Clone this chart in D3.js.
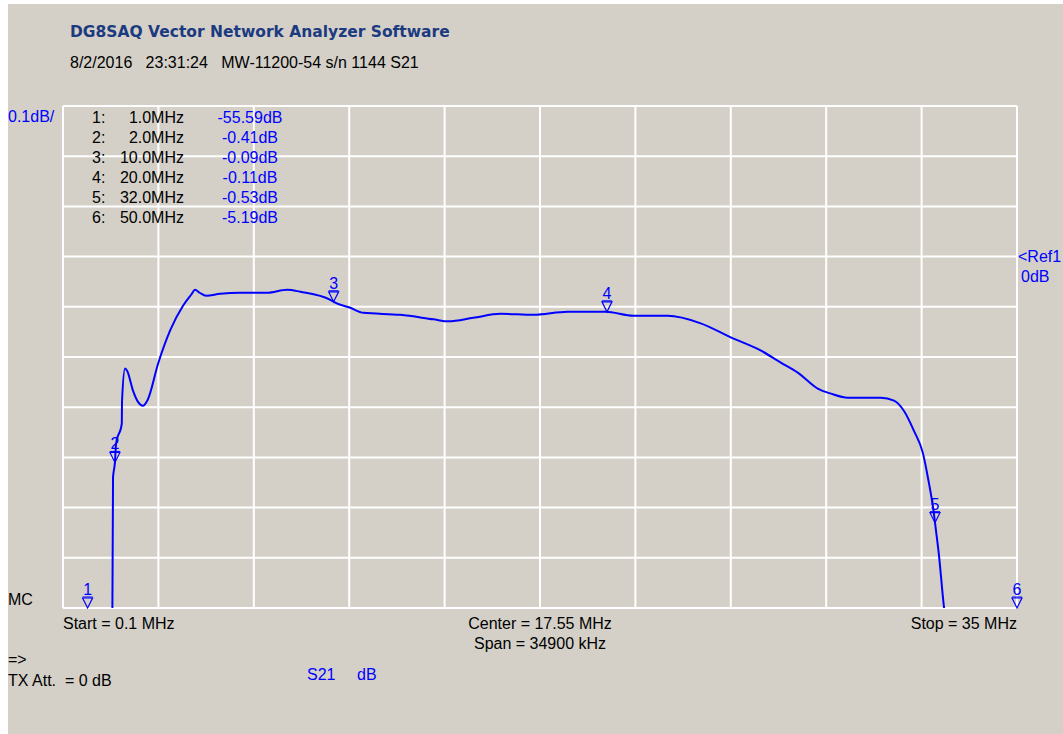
<!DOCTYPE html>
<html>
<head>
<meta charset="utf-8">
<script src="https://d3js.org/d3.v7.min.js"></script>
<style>
body { margin: 0; background: #ffffff; }
svg text { font-family: "Liberation Sans", Arial, sans-serif; }
</style>
</head>
<body>
<svg id="chart" width="1063" height="734"></svg>
<script>
// S21 trace, frequency in MHz, level in dB
var traceFreq = [0.1, 1.0, 1.9, 1.93, 1.95, 2.0, 2.04, 2.25, 2.26, 2.37, 2.45, 2.66, 2.85, 3.02, 3.2, 3.58, 4.02, 4.49, 4.8, 4.93, 5.1, 5.34, 5.85, 6.58, 7.57, 8.30, 8.78, 9.88, 10.0, 10.61, 11.09, 12.44, 13.65, 14.20, 15.11, 16.10, 17.31, 18.56, 19.95, 20.97, 22.22, 23.43, 24.53, 25.62, 26.36, 26.98, 27.71, 28.19, 28.81, 30.02, 30.50, 30.86, 31.23, 31.56, 31.74, 31.96, 32.0, 32.14, 32.33, 32.6, 35.0];
var traceDb = [-62.0, -55.59, -30.0, -0.44, -0.43, -0.41, -0.373, -0.333, -0.287, -0.223, -0.228, -0.267, -0.29, -0.297, -0.285, -0.213, -0.147, -0.098, -0.075, -0.066, -0.072, -0.078, -0.074, -0.072, -0.072, -0.066, -0.070, -0.086, -0.09, -0.102, -0.112, -0.116, -0.125, -0.129, -0.122, -0.114, -0.116, -0.110, -0.110, -0.118, -0.118, -0.133, -0.161, -0.187, -0.211, -0.231, -0.263, -0.273, -0.281, -0.281, -0.287, -0.307, -0.347, -0.392, -0.440, -0.512, -0.53, -0.592, -0.699, -1.2, -8.0];

// markers
var markerNum = [1, 2, 3, 4, 5, 6];
var markerFreq = [1.0, 2.0, 10.0, 20.0, 32.0, 50.0];
var markerDb = [-55.59, -0.41, -0.09, -0.11, -0.53, -5.19];

var startMHz = 0.1, stopMHz = 35;
var refDb = 0, dbPerDiv = 0.1;

var svg = d3.select("#chart");
var gray = "#d4d0c8", blue = "#0000ff";

// background (thin white strip on top and left like the screenshot)
svg.append("rect").attr("x", 8).attr("y", 4).attr("width", 1055).attr("height", 730).attr("fill", gray);

var pLeft = 63, pRight = 1017, pTop = 106, pBottom = 608;

var x = d3.scaleLinear().domain([startMHz, stopMHz]).range([pLeft, pRight]);
// ref line sits 3 divisions below the top
var y = d3.scaleLinear().domain([refDb + 3 * dbPerDiv, refDb - 7 * dbPerDiv]).range([pTop, pBottom]);

// grid
var vTicks = d3.range(0, 11).map(function(i) { return startMHz + i * (stopMHz - startMHz) / 10; });
var hTicks = d3.range(0, 11).map(function(i) { return refDb + (3 - i) * dbPerDiv; });

svg.append("g").selectAll("line").data(vTicks).enter().append("line")
  .attr("x1", function(d) { return x(d); }).attr("x2", function(d) { return x(d); })
  .attr("y1", pTop).attr("y2", pBottom)
  .attr("stroke", "#ffffff").attr("stroke-width", 2);
svg.append("g").selectAll("line").data(hTicks).enter().append("line")
  .attr("x1", pLeft).attr("x2", pRight)
  .attr("y1", function(d) { return y(d); }).attr("y2", function(d) { return y(d); })
  .attr("stroke", "#ffffff").attr("stroke-width", 2);

// trace, clipped to plot area
svg.append("clipPath").attr("id", "plotclip").append("rect")
  .attr("x", pLeft).attr("y", pTop - 1).attr("width", pRight - pLeft).attr("height", pBottom - pTop + 1);

var pts = traceFreq.map(function(f, i) { return [f, traceDb[i]]; });
var line = d3.line()
  .x(function(d) { return x(d[0]); })
  .y(function(d) { return Math.min(y(d[1]), pBottom + 40); })
  .curve(d3.curveMonotoneX);
svg.append("path").datum(pts)
  .attr("clip-path", "url(#plotclip)")
  .attr("d", line)
  .attr("fill", "none").attr("stroke", blue).attr("stroke-width", 2);

// marker triangles
var mk = svg.append("g");
markerNum.forEach(function(n, i) {
  var mx = Math.min(x(markerFreq[i]), pRight);
  var my = Math.max(pTop, Math.min(y(markerDb[i]), pBottom));
  mk.append("path")
    .attr("d", "M" + (mx - 5) + "," + (my - 10) + "L" + (mx + 5) + "," + (my - 10) + "L" + mx + "," + my + "Z")
    .attr("fill", "none").attr("stroke", blue).attr("stroke-width", 1.2);
  mk.append("line").attr("x1", mx - 5).attr("x2", mx + 5).attr("y1", my - 11).attr("y2", my - 11)
    .attr("stroke", blue).attr("stroke-width", 1);
  mk.append("text").attr("x", mx).attr("y", my - 13).attr("text-anchor", "middle")
    .attr("font-size", 16).attr("fill", blue).text(n);
});

// marker readout table
var rows = svg.append("g");
markerNum.forEach(function(n, i) {
  var yy = 123 + i * 20;
  rows.append("text").attr("x", 92).attr("y", yy).attr("font-size", 16).attr("fill", "#000").text(n + ":");
  rows.append("text").attr("x", 184).attr("y", yy).attr("text-anchor", "end").attr("font-size", 16)
    .attr("fill", "#000").text(markerFreq[i].toFixed(1) + "MHz");
  rows.append("text").attr("x", 250).attr("y", yy).attr("text-anchor", "middle").attr("font-size", 16)
    .attr("fill", blue).text(markerDb[i].toFixed(2) + "dB");
});

function label(tx, ty, s, opts) {
  opts = opts || {};
  return svg.append("text").attr("x", tx).attr("y", ty)
    .attr("font-size", opts.size || 16)
    .attr("font-weight", opts.weight || "normal")
    .attr("text-anchor", opts.anchor || "start")
    .attr("fill", opts.color || "#000")
    .style("white-space", "pre")
    .text(s);
}

label(70, 37, "DG8SAQ Vector Network Analyzer Software", {size: 15.5, weight: "bold", color: "#1c3a80"})
  .style("font-family", "'DejaVu Sans', Verdana, sans-serif");
label(70, 68, "8/2/2016   23:31:24   MW-11200-54 s/n 1144 S21");
label(8, 122, "0.1dB/", {color: blue});
label(1018, 262, "<Ref1", {color: blue});
label(1021, 282, "0dB", {color: blue});
label(8, 605, "MC");
label(63, 629, "Start = " + startMHz + " MHz");
label(540, 629, "Center = " + ((startMHz + stopMHz) / 2).toFixed(2) + " MHz", {anchor: "middle"});
label(540, 649, "Span = " + Math.round((stopMHz - startMHz) * 1000) + " kHz", {anchor: "middle"});
label(1017, 629, "Stop = " + stopMHz + " MHz", {anchor: "end"});
label(8, 665, "=>");
label(8, 686, "TX Att.  = 0 dB");
label(307, 680, "S21", {color: blue});
label(357, 680, "dB", {color: blue});
</script>
</body>
</html>
